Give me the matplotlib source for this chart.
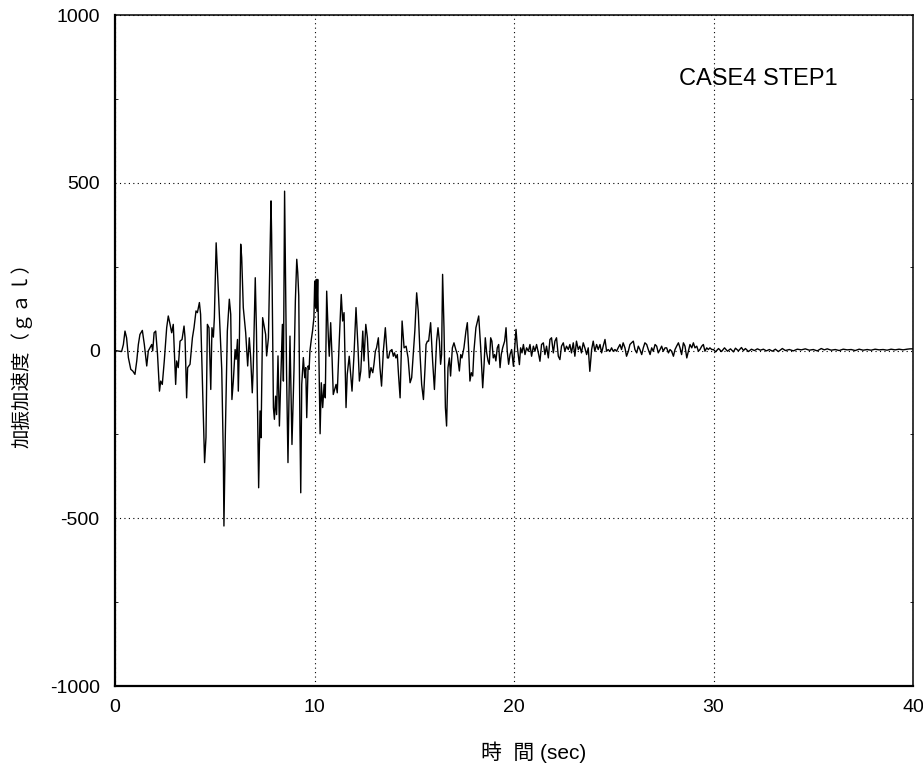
import matplotlib
matplotlib.use("Agg")
import matplotlib.pyplot as plt
from matplotlib.ticker import MultipleLocator

plt.rcParams['font.family'] = ['Liberation Sans', 'Noto Sans CJK JP', 'DejaVu Sans']

# time (sec) and acceleration (gal)
time_s = [
    0.0, 0.33, 0.42, 0.50, 0.58, 0.67, 0.79, 0.89, 1.00, 1.09, 1.17, 1.25, 1.37, 1.47, 1.59,
    1.67, 1.75, 1.84, 1.89, 1.96, 2.04, 2.13, 2.23, 2.29, 2.37, 2.47, 2.59, 2.67, 2.76, 2.84,
    2.92, 3.04, 3.09, 3.17, 3.26, 3.36, 3.46, 3.51, 3.59, 3.64, 3.76, 3.88, 3.96, 4.06, 4.13,
    4.23, 4.29, 4.39, 4.49, 4.56, 4.63, 4.71, 4.80, 4.86, 4.93, 4.98, 5.07, 5.18, 5.35, 5.43,
    5.46, 5.53, 5.63, 5.73, 5.80, 5.86, 5.93, 6.02, 6.07, 6.14, 6.18, 6.23, 6.30, 6.35, 6.43,
    6.55, 6.65, 6.73, 6.80, 6.88, 6.93, 7.03, 7.09, 7.20, 7.27, 7.32, 7.40, 7.49, 7.55, 7.60,
    7.69, 7.82, 7.85, 7.94, 7.99, 8.05, 8.10, 8.17, 8.24, 8.31, 8.39, 8.44, 8.50, 8.60, 8.67,
    8.77, 8.87, 8.97, 9.04, 9.11, 9.16, 9.21, 9.27, 9.31, 9.36, 9.44, 9.51, 9.56, 9.61, 9.68,
    9.73, 9.77, 9.84, 9.90, 9.97, 10.01, 10.04, 10.06, 10.09, 10.12, 10.16, 10.21, 10.28, 10.34,
    10.41, 10.48, 10.54, 10.61, 10.70, 10.74, 10.81, 10.88, 10.94, 11.01, 11.08, 11.14, 11.24,
    11.34, 11.41, 11.48, 11.58, 11.64, 11.74, 11.81, 11.88, 11.98, 12.08, 12.18, 12.25, 12.32,
    12.42, 12.48, 12.57, 12.65, 12.75, 12.83, 12.92, 12.98, 13.05, 13.11, 13.20, 13.28, 13.36,
    13.45, 13.55, 13.65, 13.71, 13.78, 13.88, 13.95, 14.01, 14.08, 14.15, 14.21, 14.29, 14.39,
    14.49, 14.59, 14.69, 14.79, 14.87, 14.95, 15.03, 15.12, 15.20, 15.29, 15.37, 15.46, 15.54,
    15.59, 15.66, 15.72, 15.82, 15.92, 16.01, 16.12, 16.19, 16.26, 16.32, 16.37, 16.42, 16.49,
    16.56, 16.62, 16.69, 16.76, 16.82, 16.91, 16.99, 17.08, 17.16, 17.26, 17.33, 17.39, 17.49,
    17.59, 17.66, 17.73, 17.79, 17.86, 17.93, 17.99, 18.09, 18.23, 18.33, 18.43, 18.50, 18.56,
    18.63, 18.70, 18.76, 18.83, 18.89, 18.96, 19.03, 19.09, 19.16, 19.23, 19.30, 19.36, 19.43,
    19.53, 19.60, 19.66, 19.73, 19.80, 19.88, 19.97, 20.05, 20.10, 20.17, 20.27, 20.33, 20.40,
    20.47, 20.55, 20.63, 20.72, 20.80, 20.88, 20.97, 21.05, 21.13, 21.22, 21.30, 21.38, 21.47,
    21.55, 21.63, 21.72, 21.80, 21.88, 21.97, 22.05, 22.13, 22.22, 22.30, 22.38, 22.47, 22.55,
    22.63, 22.72, 22.80, 22.88, 22.97, 23.05, 23.13, 23.22, 23.30, 23.38, 23.47, 23.55, 23.64,
    23.72, 23.80, 23.89, 23.97, 24.05, 24.14, 24.22, 24.31, 24.39, 24.47, 24.56, 24.64, 24.72,
    24.81, 24.89, 24.97, 25.06, 25.14, 25.22, 25.31, 25.39, 25.47, 25.56, 25.64, 25.73, 25.81,
    25.89, 25.98, 26.06, 26.15, 26.23, 26.31, 26.40, 26.48, 26.56, 26.65, 26.73, 26.82, 26.90,
    26.98, 27.07, 27.15, 27.23, 27.32, 27.40, 27.48, 27.57, 27.65, 27.74, 27.82, 27.90, 27.99,
    28.07, 28.15, 28.24, 28.32, 28.40, 28.49, 28.57, 28.66, 28.74, 28.82, 28.91, 28.99, 29.07,
    29.16, 29.24, 29.32, 29.41, 29.49, 29.57, 29.66, 29.74, 29.82, 29.91, 30.0, 30.1, 30.25,
    30.4, 30.55, 30.7, 30.85, 31.0, 31.1, 31.25, 31.4, 31.5, 31.6, 31.75, 31.9, 32.05, 32.2,
    32.35, 32.5, 32.65, 32.8, 32.95, 33.1, 33.25, 33.45, 33.6, 33.8, 34.0, 34.2, 34.4, 34.6,
    34.8, 35.0, 35.2, 35.4, 35.55, 35.7, 35.9, 36.1, 36.3, 36.5, 36.7, 36.9, 37.1, 37.3, 37.5,
    37.7, 37.9, 38.1, 38.3, 38.5, 38.7, 38.9, 39.1, 39.3, 39.5, 39.7, 39.85, 40.0,
]
accel_gal = [
    0, -3, 18, 58, 38, -21, -56, -61, -71, -31, 18, 48, 60, 18, -46,
    -1, 8, 18, -1, 53, 58, -11, -121, -91, -101, -31, 68, 103, 78, 53,
    78, -101, -31, -51, 28, 33, 73, 38, -141, -51, -41, 38, 68, 118, 113,
    143, 108, -111, -334, -259, 78, 68, -116, 68, 40, 98, 321, 177, -56, -319,
    -523, -250, 58, 153, 108, -146, -91, 3, -26, 33, -121, 8, 317, 277, 128,
    53, -46, 38, -21, -126, -51, 217, 58, -409, -180, -260, 98, 68, 48, -16,
    38, 446, 346, -170, -205, -136, -191, -16, -225, -81, 78, -91, 475, -71, -334,
    43, -280, -61, 148, 272, 232, 163, -230, -424, -101, -21, -81, -51, -200, -46,
    -56, -1, 33, 58, 98, 207, 140, 128, 212, 117, 212, 28, -248, -96,
    -170, -101, -141, 177, 28, -17, 83, -22, -131, -116, -101, -126, 28,
    167, 88, 113, -170, -71, -17, -71, -121, -12, 128, 8, -91, -61,
    58, -31, 78, 38, -81, -51, -66, -41, -2, 8, 38, -51, -106,
    -2, 68, -22, -22, -2, 3, -17, -7, -22, -12, -71, -141, 88,
    8, 13, -22, -96, -81, -12, 60, 172, 117, -12, -101, -146, -51,
    18, 28, 28, 83, -31, -116, 28, 68, 28, -41, -12, 227, 68,
    -170, -225, -51, -22, -76, 8, 23, 3, -12, -61, -12, -22, 8,
    58, 83, -2, -91, -66, -76, -2, 68, 103, 8, -111, -41, 38,
    -7, -31, -41, 38, 28, -22, -12, -31, 8, 18, -51, -12, 8,
    28, 68, -2, -41, -12, 3, -47, 18, 63, 8, -42, 8, -7,
    18, -12, 8, -2, 18, -17, 13, -2, 18, -7, -32, 18, 23,
    -12, 13, -22, 33, 38, -7, 28, 38, -17, -27, 13, 23, -2,
    13, 3, 18, -7, 23, -17, 28, 3, 13, -7, 23, 8, -12,
    8, -62, 3, 28, -2, 18, 3, 18, -7, 13, 33, -2, 3,
    -2, 8, -2, 3, -2, 8, 18, 3, 23, 8, -17, -2, 18,
    23, 28, 3, -7, 13, 3, -12, 8, 23, 18, 3, -12, 8,
    -2, 18, 13, -7, 3, 13, -2, 8, 8, -7, 3, -2, -17,
    3, 13, 23, 8, -12, 23, 13, -22, -2, 18, 8, 23, 8,
    13, -2, 3, 13, 18, -2, 8, 3, 8, 3, 3, -4, 6,
    -3, 8, -2, 5, -4, 7, -1, 9, 0, 6, -3, 4, 0, 5,
    1, 4, -1, 3, -2, 4, -3, 6, 0, 3, -1, 4, 2, 5,
    1, 3, -1, 6, 2, 5, 1, 3, 0, 4, 2, 3, 0, 4, 1,
    3, 1, 4, 2, 3, 1, 4, 2, 4, 2, 4, 5, 5,
]

x_ticks = [0, 10, 20, 30, 40]
y_ticks = [-1000, -500, 0, 500, 1000]
y_tick_labels = ['-1000', '-500', '0', '500', '1000']

fig = plt.figure(figsize=(9.23, 7.71), dpi=100)
ax = fig.add_axes([0.1246, 0.1102, 0.8646, 0.8703])

ax.plot(time_s, accel_gal, color='black', linewidth=1.0)

ax.set_xlim(0, 40)
ax.set_ylim(-1000, 1000)
ax.set_xticks(x_ticks)
ax.set_yticks(y_ticks)
ax.set_yticklabels(y_tick_labels)
ax.yaxis.set_minor_locator(MultipleLocator(250))
ax.tick_params(axis='both', which='major', length=0, labelsize=14)
ax.tick_params(axis='x', which='major', pad=9)
ax.tick_params(axis='y', which='major', pad=11)
ax.tick_params(axis='y', which='minor', direction='in', length=2, left=True, right=True)

ax.grid(True, which='major', linestyle=(0, (1, 3)), color='black', linewidth=0.8)

for side in ['left', 'bottom']:
    ax.spines[side].set_linewidth(1.6)
for side in ['top', 'right']:
    ax.spines[side].set_linewidth(1.1)

ax.text(0.707, 0.905, 'CASE4 STEP1', transform=ax.transAxes, fontsize=17, ha='left', va='center')

ax.set_xlabel('時  間 (sec)', fontsize=15)
ax.xaxis.set_label_coords(0.525, -0.082)
ax.set_ylabel('加振加速度（ｇａｌ）', fontsize=14,
              family=['Noto Sans CJK JP', 'DejaVu Sans'])
ax.yaxis.set_label_coords(-0.104, 0.5)

fig.savefig('out.png', dpi=100)
